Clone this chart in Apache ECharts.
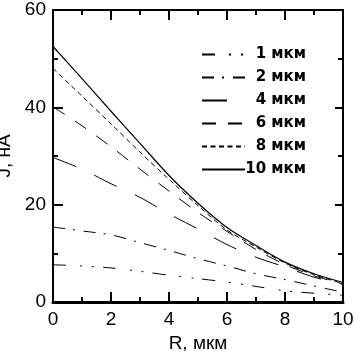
<!DOCTYPE html>
<html>
<head>
<meta charset="utf-8">
<script src="https://cdn.jsdelivr.net/npm/echarts@6/dist/echarts.min.js"></script>
<style>
html,body{margin:0;padding:0;background:#fff;}
#c{width:355px;height:351px;}
</style>
</head>
<body>
<div id="c"></div>
<script>
// Data
const rValues = [0, 1, 2, 3, 4, 5, 6, 7, 8, 9, 10];
const seriesNames = ['1 мкм', '2 мкм', '4 мкм', '6 мкм', '8 мкм', '10 мкм'];
const j1  = [7.65, 7.4, 7.0, 6.3, 5.5, 4.8, 4.1, 3.2, 2.3, 1.8, 1.4];
const j2  = [15.4, 14.6, 13.8, 12.2, 10.6, 8.9, 7.4, 5.8, 4.6, 3.3, 2.0];
const j4  = [29.7, 27.3, 24.3, 21.5, 18.1, 15.0, 11.8, 9.2, 7.2, 5.1, 3.6];
const j6  = [40.1, 36.2, 31.9, 27.3, 22.8, 18.4, 14.5, 10.8, 7.7, 5.4, 3.7];
const j8  = [48.0, 42.3, 36.6, 30.8, 25.2, 19.8, 14.8, 11.3, 8.0, 5.6, 3.8];
const j10 = [52.5, 45.9, 39.2, 32.6, 26.0, 20.3, 15.3, 11.6, 8.2, 5.8, 4.0];
const xTicks = [0, 2, 4, 6, 8, 10];
const yTicks = [0, 20, 40, 60];

const allSeries = [j1, j2, j4, j6, j8, j10];
const dashes = [
  [13, 14, 2, 10, 2, 9],
  [12, 8, 2, 9],
  [25, 20],
  [14, 12],
  [5, 3.5],
  'solid'
];

const tickFont = "'Liberation Sans Narrow', 'Liberation Sans', Arial, sans-serif";

function pairs(vals) { return rValues.map((r, i) => [r, vals[i]]); }

const chart = echarts.init(document.getElementById('c'), null, {renderer: 'canvas'});

const axisCommon = {
  axisLine: {show: true, onZero: false, lineStyle: {color: '#000', width: 2}},
  axisTick: {show: true, inside: true, length: 10, lineStyle: {color: '#000', width: 2}},
  minorTick: {show: true, splitNumber: 2, length: 5, lineStyle: {color: '#000', width: 2}},
  splitLine: {show: false}
};

chart.setOption({
  animation: false,
  backgroundColor: '#fff',
  grid: {left: 53, top: 10, right: 12, bottom: 49, containLabel: false, outerBoundsMode: 'none'},
  legend: {
    show: true,
    orient: 'vertical',
    left: 201,
    top: 47,
    padding: 0,
    itemWidth: 43,
    itemHeight: 14,
    itemGap: 8,
    itemStyle: {opacity: 0},
    textStyle: {
      color: '#000',
      rich: {
        a: {width: 56, align: 'right', fontSize: 15, fontWeight: 'bold', fontFamily: "'DejaVu Sans', sans-serif", color: '#000'}
      }
    },
    itemTextGap: 4,
    formatter: name => '{a|' + name + '}',
    data: seriesNames
  },
  xAxis: [
    Object.assign({
      type: 'value', min: 0, max: 10, interval: 2, position: 'bottom',
      name: 'R, мкм', nameLocation: 'middle', nameGap: 29,
      nameTextStyle: {fontSize: 19, fontFamily: tickFont, color: '#000'},
      axisLabel: {fontSize: 19, fontFamily: tickFont, color: '#000', margin: 8,
        formatter: v => xTicks.includes(v) ? String(v) : ''}
    }, axisCommon, {axisLine: {show: true, onZero: false, lineStyle: {color: '#000', width: 3}}}),
    Object.assign({
      type: 'value', min: 0, max: 10, interval: 2, position: 'top',
      axisLabel: {show: false}
    }, axisCommon)
  ],
  yAxis: [
    Object.assign({
      type: 'value', min: 0, max: 60, interval: 20, position: 'left',
      name: 'J, нА', nameLocation: 'middle', nameGap: 32,
      nameTextStyle: {fontSize: 19, fontFamily: tickFont, color: '#000'},
      axisLabel: {fontSize: 19, fontFamily: tickFont, color: '#000', margin: 7,
        formatter: v => yTicks.includes(v) ? String(v) : ''}
    }, axisCommon),
    Object.assign({
      type: 'value', min: 0, max: 60, interval: 20, position: 'right',
      axisLabel: {show: false}
    }, axisCommon, {axisTick: {show: true, inside: true, length: 8, lineStyle: {color: '#000', width: 2}}})
  ],
  series: allSeries.map((vals, i) => ({
    name: seriesNames[i],
    type: 'line',
    xAxisIndex: 0,
    yAxisIndex: 0,
    data: pairs(vals),
    smooth: 0.3,
    symbol: 'none',
    showSymbol: false,
    color: '#000',
    lineStyle: {color: '#000', width: i === 5 ? 1.2 : 1, type: dashes[i]}
  }))
});
</script>
</body>
</html>
